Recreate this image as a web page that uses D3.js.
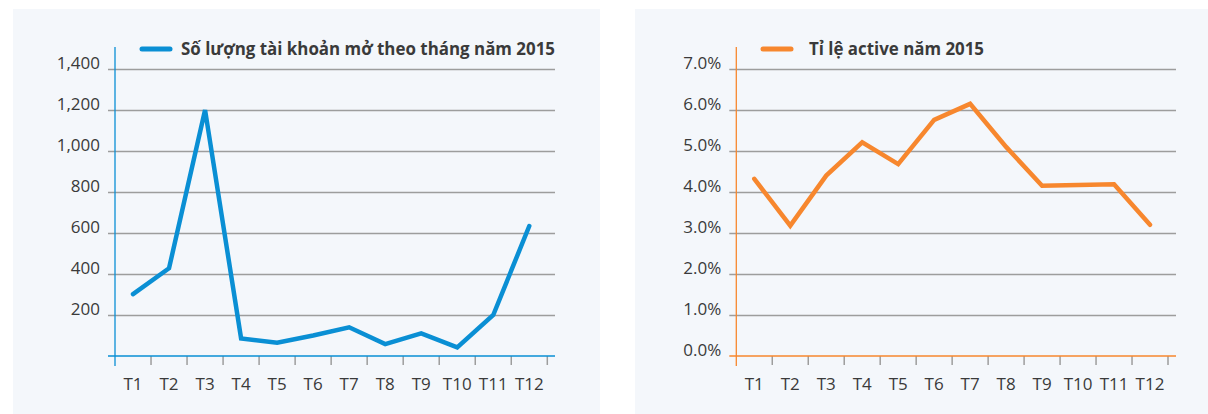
<!DOCTYPE html>
<html>
<head>
<meta charset="utf-8">
<script src="https://cdn.jsdelivr.net/npm/d3@7"></script>
<style>
  body { margin: 0; background: #fff; }
  svg { display: block; font-family: 'Open Sans', sans-serif; }
</style>
</head>
<body>
<svg id="chart" width="1208" height="414"></svg>
<script>
const months = ['T1', 'T2', 'T3', 'T4', 'T5', 'T6', 'T7', 'T8', 'T9', 'T10', 'T11', 'T12'];

// so luong tai khoan mo moi thang
const accountsOpened = [302, 428, 1200, 86, 65, 100, 140, 58, 110, 42, 200, 634];
const accountTicks = [200, 400, 600, 800, 1000, 1200, 1400];
const accountTitle = 'Số lượng tài khoản mở theo tháng năm 2015';

// ti le active
const activeRate = [0.0432, 0.0318, 0.044, 0.0521, 0.0468, 0.0576, 0.0615, 0.051, 0.0415, 0.0417, 0.0419, 0.032];
const rateTicks = [0, 0.01, 0.02, 0.03, 0.04, 0.05, 0.06, 0.07];
const rateTitle = 'Tỉ lệ active năm 2015';

const svg = d3.select('#chart');
const textColor = '#3a3a3a';
const gridColor = '#9d9d9d';
const fontFamily = "'Open Sans', sans-serif";

function drawPanel(opts) {
  svg.append('rect')
    .attr('x', opts.panel[0]).attr('y', 9)
    .attr('width', opts.panel[1]).attr('height', 405)
    .attr('fill', '#f4f7fb');

  const x = d3.scaleBand().domain(months).range([opts.left, opts.bandEnd]);
  const y = d3.scaleLinear().domain(opts.domain).range([356, 69]);
  const g = svg.append('g');

  // grid + y labels
  const yAxis = d3.axisLeft(y)
    .tickValues(opts.ticks)
    .tickSize(0)
    .tickPadding(8)
    .tickFormat(opts.format);
  const ya = g.append('g')
    .attr('transform', `translate(${opts.left - 7},0)`)
    .call(yAxis)
    .attr('font-family', fontFamily)
    .attr('font-size', 17);
  ya.select('.domain').remove();
  ya.selectAll('.tick line')
    .attr('x1', 0).attr('x2', opts.gridEnd - opts.left + 7)
    .attr('stroke', gridColor).attr('stroke-width', 1.5);
  ya.selectAll('.tick text')
    .attr('dy', '-0.05em')
    .attr('fill', textColor);
  ya.selectAll('.tick').filter(d => d === 0).select('line').remove();

  // x axis
  const xa = g.append('g')
    .attr('transform', 'translate(0,356)')
    .call(d3.axisBottom(x).tickSize(0).tickPadding(22))
    .attr('font-family', fontFamily)
    .attr('font-size', 17);
  xa.select('.domain').remove();
  xa.selectAll('.tick text')
    .attr('fill', textColor);

  g.selectAll('.xtick')
    .data(months.slice(1).concat(['end']))
    .join('line')
    .attr('x1', d => d === 'end' ? opts.bandEnd : x(d))
    .attr('x2', d => d === 'end' ? opts.bandEnd : x(d))
    .attr('y1', 356).attr('y2', 365)
    .attr('stroke', gridColor).attr('stroke-width', 1.5);

  g.append('line')
    .attr('x1', opts.left - 7).attr('x2', opts.gridEnd)
    .attr('y1', 356).attr('y2', 356)
    .attr('stroke', opts.color).attr('stroke-width', 1.5);
  g.append('line')
    .attr('x1', opts.left).attr('x2', opts.left)
    .attr('y1', 47).attr('y2', 366)
    .attr('stroke', opts.color).attr('stroke-width', 1.3);

  // data line
  const line = d3.line()
    .x((d, i) => x(months[i]) + x.bandwidth() / 2)
    .y(d => y(d));
  g.append('path')
    .datum(opts.values)
    .attr('d', line)
    .attr('fill', 'none')
    .attr('stroke', opts.color)
    .attr('stroke-width', 4.5)
    .attr('stroke-linejoin', 'miter')
    .attr('stroke-linecap', 'round');

  // legend
  g.append('line')
    .attr('x1', opts.legendX).attr('x2', opts.legendX + 28)
    .attr('y1', 49).attr('y2', 49)
    .attr('stroke', opts.color).attr('stroke-width', 5)
    .attr('stroke-linecap', 'round');
  g.append('text')
    .attr('x', opts.titleX).attr('y', 55)
    .attr('fill', textColor)
    .style('font-size', '17px')
    .style('font-weight', 'bold')
    .attr('textLength', opts.titleWidth)
    .attr('lengthAdjust', 'spacingAndGlyphs')
    .text(opts.title);
}

drawPanel({
  panel: [13, 587],
  left: 115, bandEnd: 547.3, gridEnd: 555,
  domain: [0, 1400], ticks: accountTicks,
  format: d3.format(','),
  values: accountsOpened,
  color: '#0a8fd4',
  legendX: 142, titleX: 181, titleWidth: 374,
  title: accountTitle
});

drawPanel({
  panel: [635, 573],
  left: 736.3, bandEnd: 1168, gridEnd: 1176,
  domain: [0, 0.07], ticks: rateTicks,
  format: d3.format('.1%'),
  values: activeRate,
  color: '#f7872e',
  legendX: 763, titleX: 809, titleWidth: 175,
  title: rateTitle
});
</script>
</body>
</html>
